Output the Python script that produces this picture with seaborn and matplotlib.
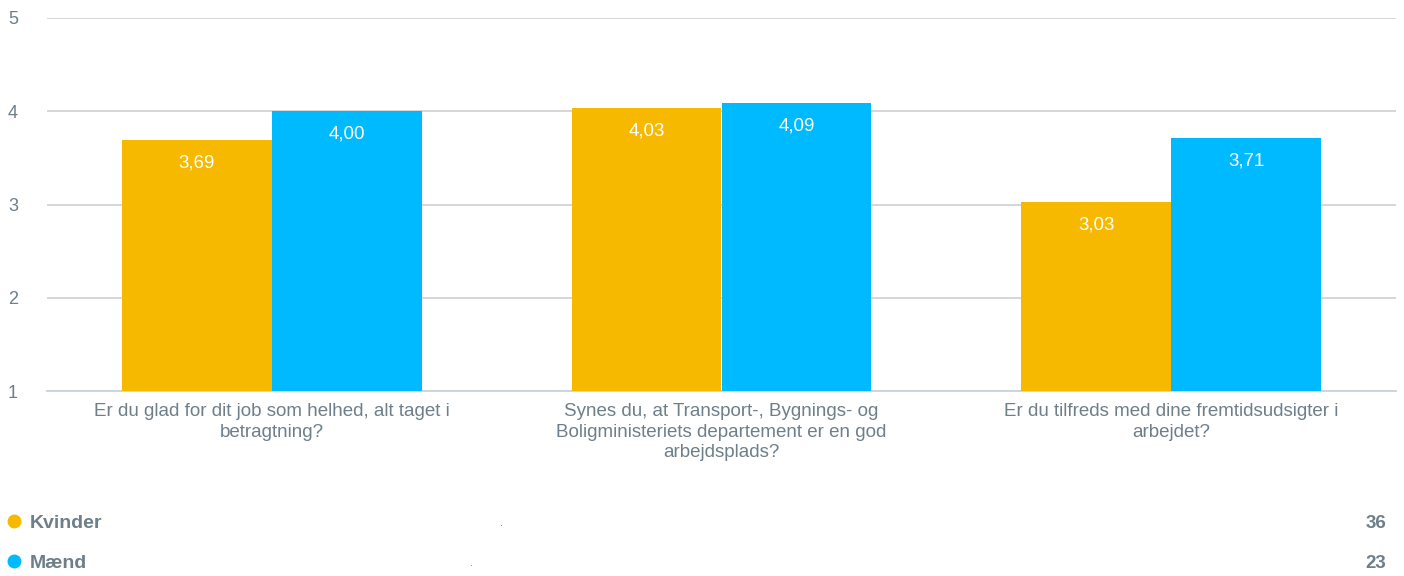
import pandas as pd
import matplotlib.pyplot as plt
import matplotlib.lines as mlines
import seaborn as sns

# -----------------------------
# Data
# -----------------------------
questions = [
    'Er du glad for dit job som helhed, alt taget i\nbetragtning?',
    'Synes du, at Transport-, Bygnings- og\nBoligministeriets departement er en god\narbejdsplads?',
    'Er du tilfreds med dine fremtidsudsigter i\narbejdet?',
]
kvinder = [3.69, 4.03, 3.03]
maend = [4.00, 4.09, 3.71]
groups = ['Kvinder', 'Mænd']
counts = [36, 23]

colors = ['#F7B900', '#00BAFF']
text_grey = '#6E7F8A'

df = pd.DataFrame({
    'Spørgsmål': questions * 2,
    'Gruppe': [groups[0]] * 3 + [groups[1]] * 3,
    'Score': kvinder + maend,
})

sns.set_style('white')
plt.rcParams['font.family'] = ['Liberation Sans', 'DejaVu Sans']

fig = plt.figure(figsize=(14.04, 5.76), dpi=100)
ax = fig.add_axes([47 / 1404, 1 - 391 / 576, (1396 - 47) / 1404, (391 - 18) / 576])

sns.barplot(data=df, x='Spørgsmål', y='Score', hue='Gruppe', palette=colors,
            width=0.667, saturation=1, linewidth=0, ax=ax, legend=False, zorder=3)

# value labels inside bars
for cont in ax.containers:
    for bar in cont:
        h = bar.get_height()
        ax.annotate(f'{h:.2f}'.replace('.', ','),
                    (bar.get_x() + bar.get_width() / 2, h),
                    xytext=(0, -23), textcoords='offset pixels',
                    ha='center', va='center', color='white', fontsize=13.5, zorder=4)

ax.set_ylim(1, 5)
ax.set_xlim(-0.5, 2.5)
ax.set_yticks([1, 2, 3, 4, 5])
ax.yaxis.grid(True, color='#D3D3D3', linewidth=1.3, zorder=0)
ax.set_axisbelow(True)
ax.set_xlabel('')
ax.set_ylabel('')

for side in ['left', 'right', 'top']:
    ax.spines[side].set_visible(False)
ax.spines['bottom'].set_color('#C9D2DC')
ax.spines['bottom'].set_linewidth(1.3)

ax.tick_params(axis='y', length=0, labelsize=13, labelcolor=text_grey, pad=0)
for lbl in ax.get_yticklabels():
    lbl.set_horizontalalignment('left')
    lbl.set_x(-39 / 1349)
ax.tick_params(axis='x', which='major', length=0, labelsize=13.5, labelcolor=text_grey, pad=9)
for lbl in ax.get_xticklabels():
    lbl.set_linespacing(1.25)
ax.set_xticks([-0.5, 0.5, 1.5, 2.5], minor=True)
ax.tick_params(axis='x', which='minor', length=8, color='#C9D2DC', width=1.3)

# -----------------------------
# Legend rows below chart
# -----------------------------
rows_y = [1 - 523 / 576, 1 - 563 / 576]
dot_x = [500 / 1404, 470 / 1404]
for g, c, n, y, dx in zip(groups, colors, counts, rows_y, dot_x):
    fig.add_artist(mlines.Line2D([14 / 1404], [y + 2 / 576], marker='o', markersize=9,
                                 color=c, transform=fig.transFigure))
    fig.text(30 / 1404, y, g, fontsize=14, fontweight='bold', color=text_grey, va='center')
    fig.text(dx, y, '.', fontsize=8, color=text_grey, va='center')
    fig.text(1386 / 1404, y, str(n), fontsize=13.5, fontweight='bold', color=text_grey,
             va='center', ha='right')

fig.savefig('out.png', dpi=100)
